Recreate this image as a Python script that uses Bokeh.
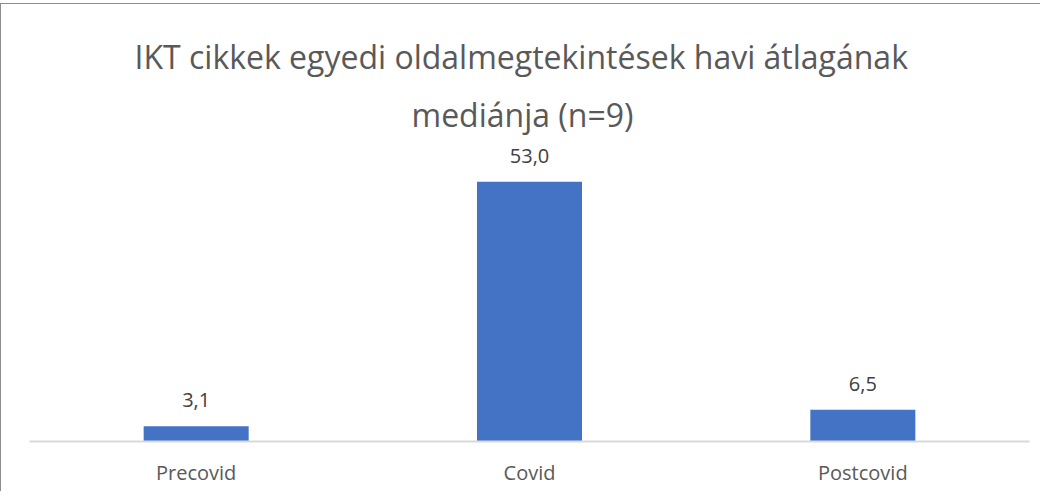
from bokeh.plotting import figure
from bokeh.models import ColumnDataSource, FactorRange, Range1d, Title
from bokeh.core.properties import value
from bokeh.embed import file_html
from bokeh.resources import INLINE

categories = ["Precovid", "Covid", "Postcovid"]
values = [3.1, 53.0, 6.5]
title_lines = ["IKT cikkek egyedi oldalmegtekintések havi átlagának", "mediánja (n=9)"]
y_max = 60

FONT = "Open Sans"
labels = [f"{v:.1f}".replace(".", ",") for v in values]
src = ColumnDataSource(dict(cat=categories, val=values, lab=labels))

p = figure(
    width=1040, height=488,
    x_range=FactorRange(*categories, range_padding=0),
    y_range=Range1d(0, y_max),
    output_backend="svg", toolbar_location=None,
    min_border_left=28, min_border_right=12, min_border_top=143, min_border_bottom=51,
)
p.styles = {"border-left": "1px solid #8c8c8c", "border-top": "1px solid #8c8c8c", "margin-top": "3px"}
p.outline_line_color = None
p.background_fill_color = "white"
p.border_fill_color = "white"
p.xgrid.visible = False
p.ygrid.visible = False
p.yaxis.visible = False

ax = p.xaxis[0]
ax.axis_line_color = "#d9d9d9"
ax.axis_line_width = 2
ax.major_tick_line_color = None
ax.minor_tick_line_color = None
ax.major_label_text_font = FONT
ax.major_label_text_font_size = "20px"
ax.major_label_text_color = "#595959"
ax.major_label_standoff = 11

p.vbar(x="cat", top="val", width=0.315, source=src, fill_color="#4472C4", line_color=None)
p.text(x="cat", y="val", text="lab", source=src, text_font=value(FONT), text_font_size="20px",
       text_color="#404040", text_align="center", text_baseline="alphabetic", y_offset=-26)

# (text, left offset within frame, standoff, line height)
for txt, off, so, lh in [(title_lines[1], 382, 23, 1.0), (title_lines[0], 105, 3, 0.8)]:
    p.add_layout(Title(text=txt, align="left", offset=off, standoff=so, text_line_height=lh,
                       text_font=FONT, text_font_size="32px", text_color="#595959",
                       text_font_style="normal"), "above")

open("out.html", "w").write(file_html(p, INLINE))
